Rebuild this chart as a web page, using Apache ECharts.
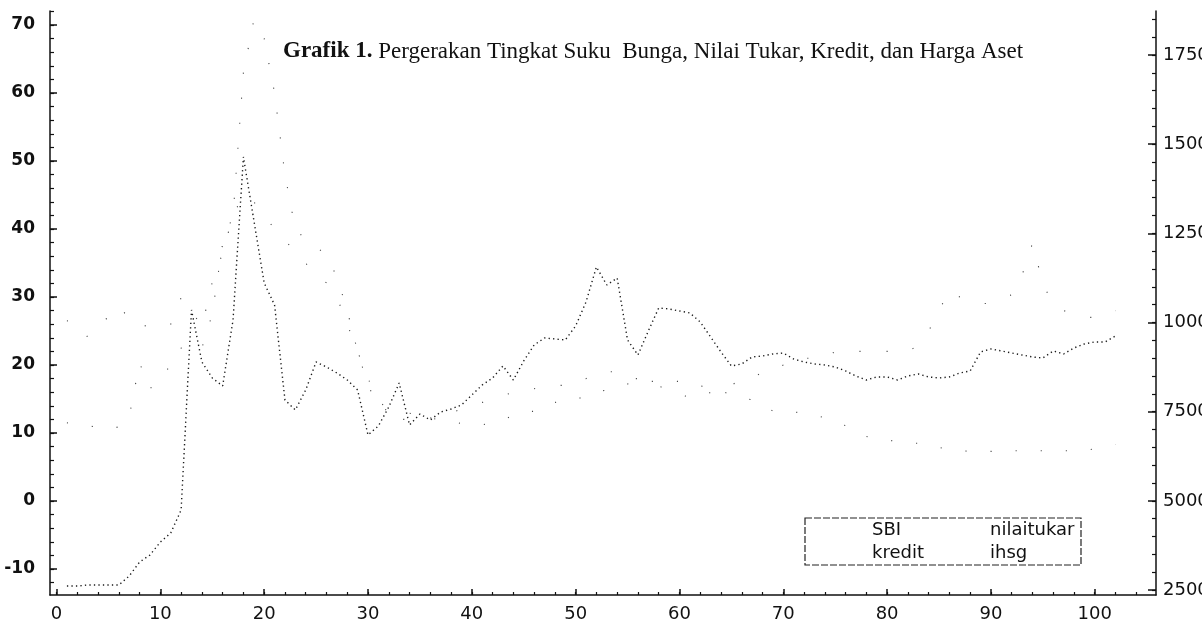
<!DOCTYPE html>
<html><head><meta charset="utf-8">
<script src="https://cdn.jsdelivr.net/npm/echarts@6/dist/echarts.min.js"></script>
<style>html,body{margin:0;padding:0;background:#fff}#c{width:1202px;height:622px}</style>
</head><body><div id="c"></div><script>
// Monthly observations 1..102 (Jan 1997 - Jun 2005)
const nilaitukar = [2612,2612,2640,2640,2640,2640,2893,3285,3481,3846,4098,4743,
  10351,8893,8444,8220,10071,14641,12875,11108,10491,7828,7547,8108,
  8893,8753,8585,8388,8108,6846,7099,7631,8304,7127,7435,7267,
  7491,7575,7687,7968,8248,8444,8781,8388,8921,9370,9566,9538,
  9510,9903,10576,11557,11052,11248,9510,9089,9762,10407,10379,10323,
  10267,10015,9594,9174,8781,8837,9033,9061,9117,9145,8977,8893,
  8837,8809,8753,8641,8500,8388,8473,8473,8388,8500,8557,8473,
  8445,8473,8585,8641,9174,9258,9202,9145,9089,9033,9005,9202,
  9117,9286,9398,9454,9454,9622];
const sbi = [11.5,11.3,11.1,10.8,10.6,10.9,12.4,20.3,16.5,18,20,22.5,
  22,22.5,27.5,37.9,42,63,70.7,68,60,48,40,38.4,
  37.5,36,33,28,22,17,14,13.2,13.1,12.9,12.6,12.2,
  11.9,11.7,11.4,11.2,11.2,11.5,11.9,12.6,13.1,13.2,13.6,14.5,
  14.7,14.8,15.6,16.1,16.3,16.6,17.2,17.7,17.6,17.6,17.6,17.6,
  17.4,16.9,16.8,16.2,15.6,15.1,14.9,14.4,13.2,13.1,13.1,12.9,
  12.7,12.2,11.4,11.1,10.4,9.5,9.1,9.0,8.7,8.5,8.5,8.3,
  7.9,7.5,7.4,7.3,7.3,7.3,7.4,7.4,7.4,7.4,7.4,7.4,
  7.4,7.4,7.4,7.7,7.9,8.3];
const kredit = [26.5,26.3,24.1,25.6,27.1,28.7,26.8,25.5,26,26.5,26,29.9,
  28,25.6,32.2,36.5,42,45,44,42,40,38,37.2,35,
  33,32.1,30,26,22,18,15,13,12,12,12,12.2,
  12.5,13,13.5,14,14.5,15,15.5,16,16,16.5,17,17,
  17,18,18,19,19,19,18,18,17,17,16,16,
  15,15,16,16,17,18,18,19,19,20,20,21,
  21,21,22,22,22,22,22,22,22,21.9,23,25,
  28,31,30,29.5,29,29.1,30,30.3,33.2,37.9,32,28.8,
  28,27.5,27,27,27,28];
const ihsg = []; // not legible in the source picture
const months = nilaitukar.map((_, i) => i + 1);

const xTicks = [0,10,20,30,40,50,60,70,80,90,100];
const leftTicks = [-10,0,10,20,30,40,50,60,70];
const rightTicks = [2500,5000,7500,10000,12500,15000,17500];
const xMinor = []; for (let v = 0; v <= 104; v += 2) xMinor.push(v);
const leftMinor = []; for (let v = -12; v <= 72; v += 2) leftMinor.push(v);
const rightMinor = []; for (let v = 2500; v <= 18500; v += 500) rightMinor.push(v);

const INK = '#111';
const FONT = 'DejaVu Sans';
const pairs = arr => arr.map((v, i) => [months[i], v]);
const plain = v => String(v);

const baseX = {type:'value', min:-0.63, max:105.9, position:'bottom', splitLine:{show:false}};
const baseL = {type:'value', min:-13.82, max:72.06, position:'left', splitLine:{show:false}};
const baseR = {type:'value', min:2360, max:18733, position:'right', splitLine:{show:false}};

const chart = echarts.init(document.getElementById('c'), null, {renderer:'canvas'});
chart.setOption({
  animation:false,
  backgroundColor:'#fff',
  title:{
    left:283, top:40, padding:0,
    text:'{b|Grafik 1.}{n| Pergerakan Tingkat Suku  Bunga, Nilai Tukar, Kredit, dan Harga Aset}',
    textStyle:{rich:{
      b:{fontFamily:'Liberation Serif', fontWeight:'bold', fontSize:23, color:INK},
      n:{fontFamily:'Liberation Serif', fontWeight:'normal', fontSize:23, color:INK}
    }}
  },
  grid:{left:50, right:46, top:11, bottom:27, containLabel:false, outerBoundsMode:'none'},
  legend:[
    {data:['SBI','kredit'], orient:'vertical', left:842, top:521, padding:0, itemGap:5,
     icon:'none', itemWidth:25, itemHeight:14, selectedMode:false,
     textStyle:{fontFamily:FONT, fontSize:18, lineHeight:18, color:INK}},
    {data:['nilaitukar','ihsg'], orient:'vertical', left:960, top:521, padding:0, itemGap:5,
     icon:'none', itemWidth:25, itemHeight:14, selectedMode:false,
     textStyle:{fontFamily:FONT, fontSize:18, lineHeight:18, color:INK}}
  ],
  graphic:[{type:'rect', silent:true, z:10,
    shape:{x:805, y:518, width:276, height:47},
    style:{fill:null, stroke:'#222', lineWidth:1.2, lineDash:[7,2]}}],
  xAxis:[
    Object.assign({}, baseX, {
      axisLine:{show:true, onZero:false, lineStyle:{color:INK, width:1.5}},
      axisTick:{show:true, inside:true, length:6, customValues:xTicks, lineStyle:{color:INK, width:1.5}},
      axisLabel:{show:true, customValues:xTicks, margin:10, fontFamily:FONT, fontSize:18, color:INK, formatter:plain}
    }),
    Object.assign({}, baseX, {
      axisLine:{show:false, onZero:false},
      axisTick:{show:true, inside:true, length:3, customValues:xMinor, lineStyle:{color:INK, width:1.2}},
      axisLabel:{show:false}
    })
  ],
  yAxis:[
    Object.assign({}, baseL, {
      axisLine:{show:true, onZero:false, lineStyle:{color:INK, width:1.5}},
      axisTick:{show:true, inside:true, length:7, customValues:leftTicks, lineStyle:{color:INK, width:1.5}},
      axisLabel:{show:true, customValues:leftTicks, margin:15, fontFamily:FONT, fontWeight:'bold', fontSize:17, color:INK, formatter:plain}
    }),
    Object.assign({}, baseL, {
      axisLine:{show:false, onZero:false},
      axisTick:{show:true, inside:true, length:4, customValues:leftMinor, lineStyle:{color:INK, width:1.2}},
      axisLabel:{show:false}
    }),
    Object.assign({}, baseR, {
      axisLine:{show:true, onZero:false, lineStyle:{color:INK, width:1.5}},
      axisTick:{show:true, inside:true, length:8, customValues:rightTicks, lineStyle:{color:INK, width:1.5}},
      axisLabel:{show:true, customValues:rightTicks, margin:7, fontFamily:FONT, fontSize:18, color:INK, formatter:plain}
    }),
    Object.assign({}, baseR, {
      axisLine:{show:false, onZero:false},
      axisTick:{show:true, inside:true, length:4, customValues:rightMinor, lineStyle:{color:INK, width:1.2}},
      axisLabel:{show:false}
    })
  ],
  series:[
    {name:'SBI', type:'line', xAxisIndex:0, yAxisIndex:0, data:pairs(sbi), showSymbol:false, silent:true,
     lineStyle:{color:'#444', width:1.1, type:[1.1,24]}, itemStyle:{color:'#444'}},
    {name:'nilaitukar', type:'line', xAxisIndex:0, yAxisIndex:2, data:pairs(nilaitukar), showSymbol:false, silent:true,
     lineStyle:{color:'#1a1a1a', width:1.4, type:[1.3,3.2]}, itemStyle:{color:'#1a1a1a'}},
    {name:'kredit', type:'line', xAxisIndex:0, yAxisIndex:0, data:pairs(kredit), showSymbol:false, silent:true,
     lineStyle:{color:'#444', width:1.1, type:[1.1,26]}, itemStyle:{color:'#444'}},
    {name:'ihsg', type:'line', xAxisIndex:0, yAxisIndex:0, data:pairs(ihsg), showSymbol:false, silent:true,
     lineStyle:{color:'#444', width:1.1, type:[1.1,26]}, itemStyle:{color:'#444'}}
  ]
});
</script></body></html>
